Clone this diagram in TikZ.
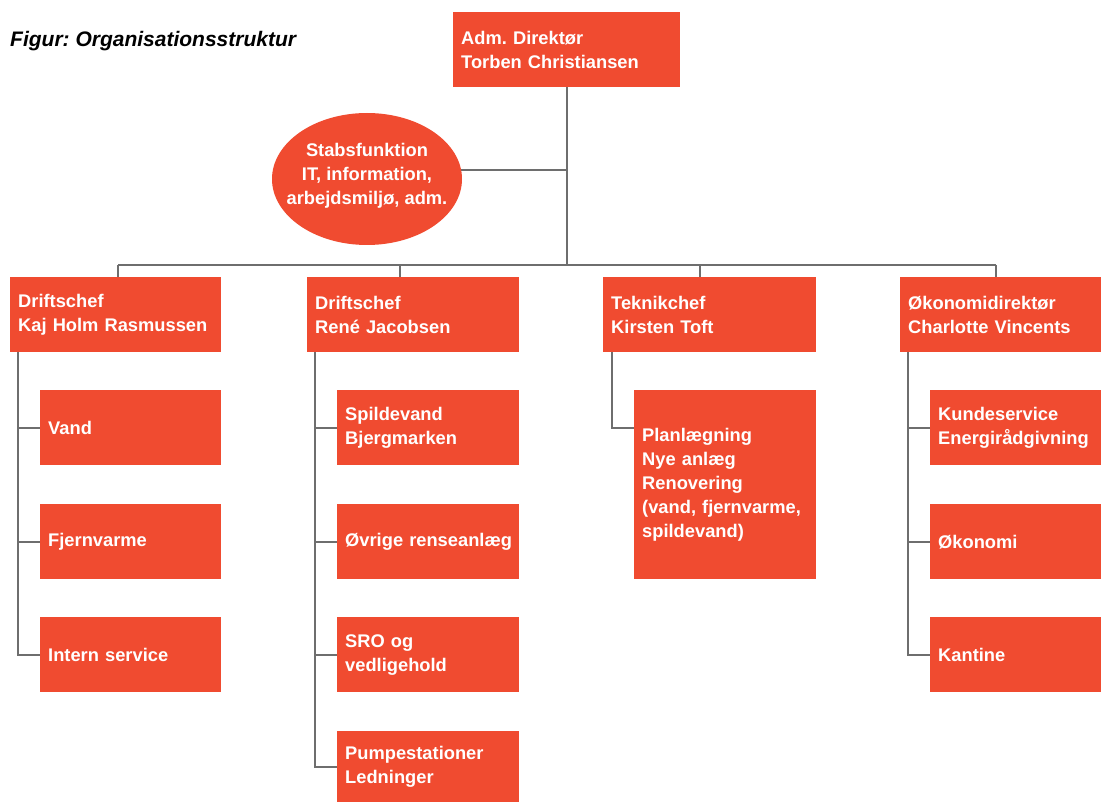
\documentclass[tikz,border=0pt]{standalone}
\usepackage{fontspec}
\setmainfont{Liberation Sans}
\usetikzlibrary{shapes.geometric,backgrounds}
\definecolor{boxc}{RGB}{240,75,48}
\definecolor{linec}{RGB}{110,110,110}
\frenchspacing
\begin{document}
\frenchspacing
\begin{tikzpicture}[x=1pt,y=-1pt,
  boxtxt/.style={font=\frenchspacing\bfseries\fontsize{18.3}{24}\selectfont,text=white},
  box/.style={boxtxt,fill=boxc,align=left,inner xsep=8pt,inner ysep=0pt,minimum height=75pt,anchor=north west},
  conn/.style={draw=linec,line width=2pt}]
\useasboundingbox (0,0) rectangle (1101,802);

\node[anchor=base west,inner sep=0pt,font=\frenchspacing\bfseries\itshape\fontsize{21}{24}\selectfont] (title) at (10,47) {Figur: Organisationsstruktur};

\node[box,text width=211pt] (T) at (453,12) {Adm. Direktør\\Torben Christiansen};
\node[ellipse,fill=boxc,minimum width=190pt,minimum height=132pt,inner sep=0pt] (E) at (367,179) {};
\node[boxtxt,align=center,inner sep=0pt] (Et) at (367,176) {Stabsfunktion\\IT, information,\\arbejdsmiljø, adm.};

\node[box,text width=195pt] (L1) at (10,277) {Driftschef\\Kaj Holm Rasmussen};
\node[box,text width=196pt] (L2) at (307,277) {Driftschef\\René Jacobsen};
\node[box,text width=197pt] (L3) at (603,277) {Teknikchef\\Kirsten Toft};
\node[box,text width=185pt] (L4) at (900,277) {Økonomidirektør\\Charlotte Vincents};

\node[box,text width=165pt] (A1) at (40,390) {Vand};
\node[box,text width=165pt] (A2) at (40,504) {Fjernvarme};
\node[box,text width=165pt] (A3) at (40,617) {Intern service};

\node[box,text width=166pt] (B1) at (337,390) {Spildevand\\Bjergmarken};
\node[box,text width=166pt] (B2) at (337,504) {\mbox{Øvrige renseanlæg}};
\node[box,text width=166pt] (B3) at (337,617) {SRO og\\vedligehold};
\node[box,text width=166pt,minimum height=71pt] (B4) at (337,731) {Pumpestationer\\Ledninger};

\node[box,text width=166pt,minimum height=189pt] (C1) at (634,390) {Planlægning\\Nye anlæg\\Renovering\\(vand, fjernvarme,\\spildevand)};

\node[box,text width=155pt] (D1) at (930,390) {Kundeservice\\Energirådgivning};
\node[box,text width=155pt] (D2) at (930,504) {Økonomi};
\node[box,text width=155pt] (D3) at (930,617) {Kantine};

\begin{scope}[on background layer]
  \coordinate (bus) at (0,265);
  \coordinate (ej) at (0,170);
  \coordinate (b1) at (118,265);
  \coordinate (b2) at (400,265);
  \coordinate (b3) at (700,265);
  \coordinate (b4) at (996,265);
  \coordinate (s1) at (18,0);
  \coordinate (s2) at (315,0);
  \coordinate (s3) at (612,0);
  \coordinate (s4) at (908,0);
  \coordinate (t3) at (0,428);

  \draw[conn] (T.south) -- (T.south |- bus);
  \draw[conn] (T.south |- ej) -- (E.center |- ej);
  \draw[conn] (b1) -- (b4);
  \draw[conn] (b1) -- (b1 |- L1.north);
  \draw[conn] (b2) -- (b2 |- L2.north);
  \draw[conn] (b3) -- (b3 |- L3.north);
  \draw[conn] (b4) -- (b4 |- L4.north);

  \draw[conn] (s1 |- L1.south) -- (s1 |- A3.west) -- (A3.west);
  \draw[conn] (s1 |- A1.west) -- (A1.west);
  \draw[conn] (s1 |- A2.west) -- (A2.west);

  \draw[conn] (s2 |- L2.south) -- (s2 |- B4.west) -- (B4.west);
  \draw[conn] (s2 |- B1.west) -- (B1.west);
  \draw[conn] (s2 |- B2.west) -- (B2.west);
  \draw[conn] (s2 |- B3.west) -- (B3.west);

  \draw[conn] (s3 |- L3.south) -- (s3 |- t3) -- (C1.west |- t3);

  \draw[conn] (s4 |- L4.south) -- (s4 |- D3.west) -- (D3.west);
  \draw[conn] (s4 |- D1.west) -- (D1.west);
  \draw[conn] (s4 |- D2.west) -- (D2.west);
\end{scope}
\end{tikzpicture}
\end{document}
